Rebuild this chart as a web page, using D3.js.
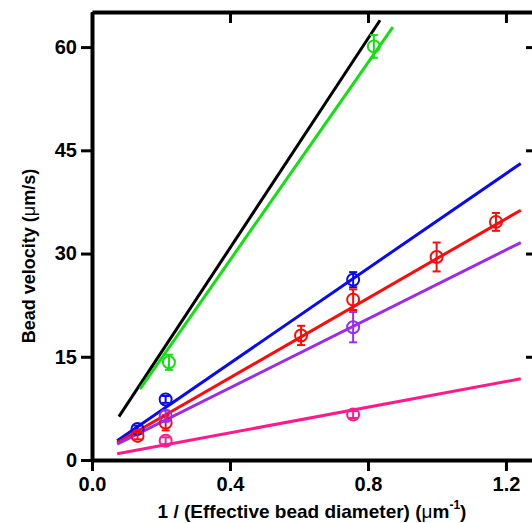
<!DOCTYPE html>
<html>
<head>
<meta charset="utf-8">
<script src="https://cdn.jsdelivr.net/npm/d3@7"></script>
<style>
  body { margin: 0; background: #fff; }
  text { font-family: "Liberation Sans", Arial, sans-serif; }
</style>
</head>
<body>
<div class="canvas"></div>
<script>
// data
const xTicks = [0.0, 0.4, 0.8, 1.2];
const yTicks = [0, 15, 30, 45, 60];

// fitted lines: [start, end]
const fitColors = ['#000000', '#11e011', '#0a0af0', '#ff0a0a', '#9a2cf0', '#ff1a8c'];
const fitX = [[0.078, 0.835], [0.139, 0.872], [0.073, 1.243], [0.073, 1.243], [0.073, 1.243], [0.073, 1.243]];
const fitY = [[6.3, 63.9], [10.3, 62.9], [2.8, 43.1], [2.5, 36.3], [2.3, 31.6], [0.9, 11.8]];

// measured points
const greenX = [0.223, 0.817];
const greenY = [14.2, 60.1];
const greenErr = [1.1, 1.65];

const blueX = [0.132, 0.2135, 0.757];
const blueY = [4.5, 8.8, 26.2];
const blueErr = [0.5, 0.5, 1.1];

const redX = [0.132, 0.2135, 0.606, 0.757, 0.999, 1.171];
const redY = [3.5, 5.4, 18.1, 23.3, 29.5, 34.6];
const redErr = [0.5, 1.1, 1.4, 1.5, 2.1, 1.3];

const purpleX = [0.2135, 0.757];
const purpleY = [6.4, 19.3];
const purpleErr = [0.8, 2.2];

const pinkX = [0.2135, 0.757];
const pinkY = [2.8, 6.6];
const pinkErr = [0.5, 0.5];

const pointSets = [
  {color: fitColors[1], xs: greenX, ys: greenY, es: greenErr},
  {color: fitColors[2], xs: blueX, ys: blueY, es: blueErr},
  {color: fitColors[3], xs: redX, ys: redY, es: redErr},
  {color: fitColors[4], xs: purpleX, ys: purpleY, es: purpleErr},
  {color: fitColors[5], xs: pinkX, ys: pinkY, es: pinkErr}
];

const margin = {top: 12, left: 92};
const width = 445, height = 448;

const svg = d3.select('.canvas')
  .append('svg')
  .attr('width', 532)
  .attr('height', 523);

const graph = svg.append('g')
  .attr('transform', `translate(${margin.left}, ${margin.top})`);

const x = d3.scaleLinear().domain([0, 1.29]).range([0, width]);
const y = d3.scaleLinear().domain([0, 65.1]).range([height, 0]);

// fit lines
const line = d3.line().x(d => x(d[0])).y(d => y(d[1]));
fitX.forEach((xs, i) => {
  graph.append('path')
    .datum([[xs[0], fitY[i][0]], [xs[1], fitY[i][1]]])
    .attr('d', line)
    .attr('fill', 'none')
    .attr('stroke', fitColors[i])
    .attr('stroke-width', 3);
});

// points with error bars
const cap = 4;
pointSets.forEach(s => {
  const pts = s.xs.map((v, i) => ({x: v, y: s.ys[i], e: s.es[i]}));
  const g = graph.append('g')
    .attr('stroke', s.color)
    .attr('stroke-width', 2)
    .attr('fill', 'none');
  pts.forEach(p => {
    const cx = x(p.x);
    g.append('line').attr('x1', cx).attr('x2', cx)
      .attr('y1', y(p.y + p.e)).attr('y2', y(p.y - p.e));
    g.append('line').attr('x1', cx - cap).attr('x2', cx + cap)
      .attr('y1', y(p.y + p.e)).attr('y2', y(p.y + p.e));
    g.append('line').attr('x1', cx - cap).attr('x2', cx + cap)
      .attr('y1', y(p.y - p.e)).attr('y2', y(p.y - p.e));
    g.append('circle').attr('cx', cx).attr('cy', y(p.y)).attr('r', 6);
  });
});

// axes
const styleAxis = g => {
  g.select('.domain').attr('stroke-width', 4);
  g.selectAll('.tick line').attr('stroke-width', 3);
  g.selectAll('text')
    .attr('font-family', '"Liberation Sans", Arial, sans-serif')
    .attr('font-weight', 'bold')
    .attr('font-size', 20)
    .attr('fill', '#000');
};

graph.append('g')
  .attr('transform', `translate(0, ${height})`)
  .call(d3.axisBottom(x).tickValues(xTicks).tickFormat(d3.format('.1f')).tickSize(11).tickSizeOuter(0).tickPadding(6))
  .call(styleAxis);

graph.append('g')
  .call(d3.axisLeft(y).tickValues(yTicks).tickSize(11).tickSizeOuter(0).tickPadding(4))
  .call(styleAxis);

graph.append('g')
  .call(d3.axisTop(x).tickValues(xTicks).tickSize(-11).tickSizeOuter(0).tickFormat(''))
  .call(styleAxis);

graph.append('g')
  .attr('transform', `translate(${width}, 0)`)
  .call(d3.axisRight(y).tickValues(yTicks).tickSize(-11).tickSizeOuter(0).tickFormat(''))
  .call(styleAxis);

// axis titles
const xTitle = svg.append('text')
  .attr('x', 312)
  .attr('y', 518)
  .attr('text-anchor', 'middle')
  .attr('font-weight', 'bold')
  .attr('font-size', 19);
xTitle.append('tspan').text('1 / (Effective bead diameter) (');
xTitle.append('tspan').attr('font-weight', 'normal').text('μ');
xTitle.append('tspan').text('m');
xTitle.append('tspan').attr('font-size', 12).attr('dy', -9).text('-1');
xTitle.append('tspan').attr('dy', 9).text(')');

const yTitle = svg.append('text')
  .attr('transform', 'translate(35, 256) rotate(-90)')
  .attr('text-anchor', 'middle')
  .attr('font-weight', 'bold')
  .attr('font-size', 18);
yTitle.append('tspan').text('Bead velocity (');
yTitle.append('tspan').attr('font-weight', 'normal').text('μ');
yTitle.append('tspan').text('m/s)');
</script>
</body>
</html>
